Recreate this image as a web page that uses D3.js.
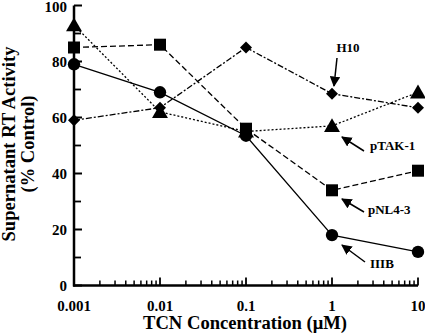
<!DOCTYPE html>
<html>
<head>
<meta charset="utf-8">
<script src="https://cdn.jsdelivr.net/npm/d3@7"></script>
<style>
  body { margin: 0; background: #fff; }
  text { font-family: "Liberation Serif", "Times New Roman", serif; font-weight: bold; fill: #000; }
</style>
</head>
<body>
<div id="chart"></div>
<script>
// concentrations (uM)
const conc = [0.001, 0.01, 0.1, 1, 10];
const xTicks = [0.001, 0.01, 0.1, 1, 10];
const xTickLabels = ["0.001", "0.01", "0.1", "1", "10"];
const yTicks = [0, 20, 40, 60, 80, 100];

// supernatant RT activity (% control)
const iiib = [79, 69, 53.5, 18, 12];
const pnl43 = [85, 86, 56, 34, 41];
const ptak1 = [93, 62, 55, 57, 69];
const h10 = [59, 63.5, 85, 68.5, 63.5];

const width = 425, height = 336;
const margin = { top: 5.5, right: 7, bottom: 50.5, left: 74 };

const svg = d3.select("#chart").append("svg")
    .attr("width", width)
    .attr("height", height);

const x = d3.scaleLog()
    .domain([0.001, 10])
    .range([margin.left, width - margin.right]);

const y = d3.scaleLinear()
    .domain([0, 100])
    .range([height - margin.bottom, margin.top]);

// minor log ticks on the x axis
let minor = [];
for (let d = 0.001; d < 10; d *= 10) {
    for (let k = 2; k <= 9; k++) minor.push(d * k);
}

const xAxisG = svg.append("g")
    .attr("transform", `translate(0, ${y(0)})`);
xAxisG.selectAll(".minor")
    .data(minor)
    .enter().append("line")
    .attr("x1", d => x(d)).attr("x2", d => x(d))
    .attr("y1", 0).attr("y2", -5)
    .attr("stroke", "#000").attr("stroke-width", 1.5);
xAxisG.selectAll(".major")
    .data(xTicks)
    .enter().append("line")
    .attr("x1", d => x(d)).attr("x2", d => x(d))
    .attr("y1", 0).attr("y2", -8)
    .attr("stroke", "#000").attr("stroke-width", 1.8);
xAxisG.selectAll(".lab")
    .data(xTicks)
    .enter().append("text")
    .attr("x", d => x(d))
    .attr("y", 25)
    .attr("text-anchor", "middle")
    .style("font-size", "15px")
    .text((d, i) => xTickLabels[i]);
xAxisG.append("line")
    .attr("x1", x(0.001) - 1).attr("x2", x(10))
    .attr("stroke", "#000").attr("stroke-width", 2.5);

// y axis
const yAxisG = svg.append("g")
    .attr("transform", `translate(${x(0.001)}, 0)`);
yAxisG.selectAll(".minor")
    .data(d3.range(10, 100, 20))
    .enter().append("line")
    .attr("x1", 0).attr("x2", 7)
    .attr("y1", d => y(d)).attr("y2", d => y(d))
    .attr("stroke", "#000").attr("stroke-width", 1.8);
yAxisG.selectAll(".major")
    .data(yTicks)
    .enter().append("line")
    .attr("x1", 0).attr("x2", 8)
    .attr("y1", d => y(d)).attr("y2", d => y(d))
    .attr("stroke", "#000").attr("stroke-width", 2);
yAxisG.selectAll(".lab")
    .data(yTicks)
    .enter().append("text")
    .attr("x", -7)
    .attr("y", d => Math.max(y(d) + 5.5, 12))
    .attr("text-anchor", "end")
    .style("font-size", "15px")
    .text(d => d);
yAxisG.append("line")
    .attr("y1", y(0) + 1).attr("y2", y(100))
    .attr("stroke", "#000").attr("stroke-width", 2.5);

// axis titles
svg.append("text")
    .attr("x", 245)
    .attr("y", 329)
    .attr("text-anchor", "middle")
    .attr("textLength", 204)
    .attr("lengthAdjust", "spacingAndGlyphs")
    .style("font-size", "18px")
    .text("TCN Concentration (\u03bcM)");
svg.append("text")
    .attr("transform", "translate(15, 144) rotate(-90)")
    .attr("text-anchor", "middle")
    .attr("textLength", 195)
    .attr("lengthAdjust", "spacingAndGlyphs")
    .style("font-size", "18px")
    .text("Supernatant RT Activity");
svg.append("text")
    .attr("transform", "translate(34, 144) rotate(-90)")
    .attr("text-anchor", "middle")
    .attr("textLength", 97)
    .attr("lengthAdjust", "spacingAndGlyphs")
    .style("font-size", "18px")
    .text("(% Control)");

// series
const series = [
    { name: "IIIB", values: iiib, dash: null, symbol: d3.symbolCircle, size: 120, rot: 0 },
    { name: "pNL4-3", values: pnl43, dash: "6,3", symbol: d3.symbolSquare, size: 144, rot: 0 },
    { name: "pTAK-1", values: ptak1, dash: "2,2", symbol: d3.symbolTriangle, size: 110, rot: 0 },
    { name: "H10", values: h10, dash: "6,2,2,2", symbol: d3.symbolSquare, size: 72, rot: 45 }
];

const line = d3.line()
    .x(d => x(d[0]))
    .y(d => y(d[1]));

series.forEach(s => {
    const pts = conc.map((c, i) => [c, s.values[i]]);
    svg.append("path")
        .datum(pts)
        .attr("d", line)
        .attr("fill", "none")
        .attr("stroke", "#000")
        .attr("stroke-width", 1.3)
        .attr("stroke-dasharray", s.dash);
});

series.forEach(s => {
    const pts = conc.map((c, i) => [c, s.values[i]]);
    svg.selectAll(null)
        .data(pts)
        .enter().append("path")
        .attr("transform", d => {
            let dy = s.symbol === d3.symbolTriangle ? 1.5 : 0;
            return `translate(${x(d[0])}, ${y(d[1]) + dy}) rotate(${s.rot})`;
        })
        .attr("d", d3.symbol().type(s.symbol).size(s.size))
        .attr("fill", "#000");
});

// annotations with arrows
svg.append("defs").append("marker")
    .attr("id", "arrow")
    .attr("viewBox", "0 0 10 10")
    .attr("refX", 9).attr("refY", 5)
    .attr("markerWidth", 7).attr("markerHeight", 7)
    .attr("orient", "auto")
    .append("path")
    .attr("d", "M0,0 L10,5 L0,10 Z")
    .attr("fill", "#000");

const labels = [
    { text: "H10", tx: 348, ty: 52, anchor: "middle", x1: 337, y1: 58, x2: 334, y2: 86 },
    { text: "pTAK-1", tx: 370, ty: 150, anchor: "start", x1: 364, y1: 151, x2: 342, y2: 137 },
    { text: "pNL4-3", tx: 368, ty: 214, anchor: "start", x1: 364, y1: 212, x2: 342, y2: 199 },
    { text: "IIIB", tx: 370, ty: 268, anchor: "start", x1: 365, y1: 262, x2: 342, y2: 245 }
];

labels.forEach(l => {
    svg.append("text")
        .attr("x", l.tx).attr("y", l.ty)
        .attr("text-anchor", l.anchor)
        .style("font-size", "13px")
        .text(l.text);
    svg.append("line")
        .attr("x1", l.x1).attr("y1", l.y1)
        .attr("x2", l.x2).attr("y2", l.y2)
        .attr("stroke", "#000").attr("stroke-width", 1.5)
        .attr("marker-end", "url(#arrow)");
});
</script>
</body>
</html>
